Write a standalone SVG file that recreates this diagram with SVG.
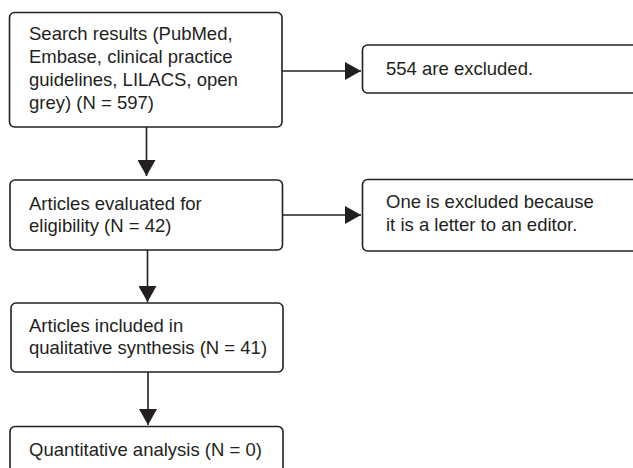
<svg xmlns="http://www.w3.org/2000/svg" width="633" height="468" viewBox="0 0 633 468">
<defs>
<style>
.box{fill:#fff;stroke:#231f20;stroke-width:1.6}
.t{font-family:"Liberation Sans",Arial,sans-serif;font-size:18.5px;fill:#231f20}
.c{stroke:#231f20;stroke-width:1.6;fill:none}
</style>
<marker id="ah" markerWidth="16" markerHeight="18" refX="16" refY="9" orient="auto" markerUnits="userSpaceOnUse">
<path d="M0,0 L16,9 L0,18 Z" fill="#231f20"/>
</marker>
</defs>
<rect width="633" height="468" fill="#fff"/>
<g id="connectors">
<line class="c" x1="282" y1="71" x2="361" y2="71" marker-end="url(#ah)"/>
<line class="c" x1="146.5" y1="127" x2="146.5" y2="176" marker-end="url(#ah)"/>
<line class="c" x1="282" y1="215" x2="361" y2="215" marker-end="url(#ah)"/>
<line class="c" x1="147.5" y1="250" x2="147.5" y2="302" marker-end="url(#ah)"/>
<line class="c" x1="148" y1="372" x2="148" y2="425" marker-end="url(#ah)"/>
</g>
<g id="search">
<rect class="box" x="9.5" y="12.5" width="272.5" height="114.5" rx="5"/>
<text class="t" x="29" y="40">Search results (PubMed,</text>
<text class="t" x="29" y="63">Embase, clinical practice</text>
<text class="t" x="29" y="86">guidelines, LILACS, open</text>
<text class="t" x="29" y="109">grey) (N = 597)</text>
</g>
<g id="excluded554">
<rect class="box" x="362.5" y="45" width="280" height="48" rx="5"/>
<text class="t" x="386" y="75">554 are excluded.</text>
</g>
<g id="evaluated">
<rect class="box" x="10" y="180" width="272.5" height="70" rx="5"/>
<text class="t" x="29" y="210">Articles evaluated for</text>
<text class="t" x="29" y="232">eligibility (N = 42)</text>
</g>
<g id="excludedLetter">
<rect class="box" x="362.5" y="179.5" width="280" height="71.5" rx="5"/>
<text class="t" x="386" y="208">One is excluded because</text>
<text class="t" x="386" y="231">it is a letter to an editor.</text>
</g>
<g id="included">
<rect class="box" x="11" y="303" width="272" height="69" rx="5"/>
<text class="t" x="29" y="332">Articles included in</text>
<text class="t" x="29" y="354">qualitative synthesis (N = 41)</text>
</g>
<g id="quantitative">
<rect class="box" x="10" y="426.5" width="273" height="60" rx="5"/>
<text class="t" x="29" y="456">Quantitative analysis (N = 0)</text>
</g>
</svg>
